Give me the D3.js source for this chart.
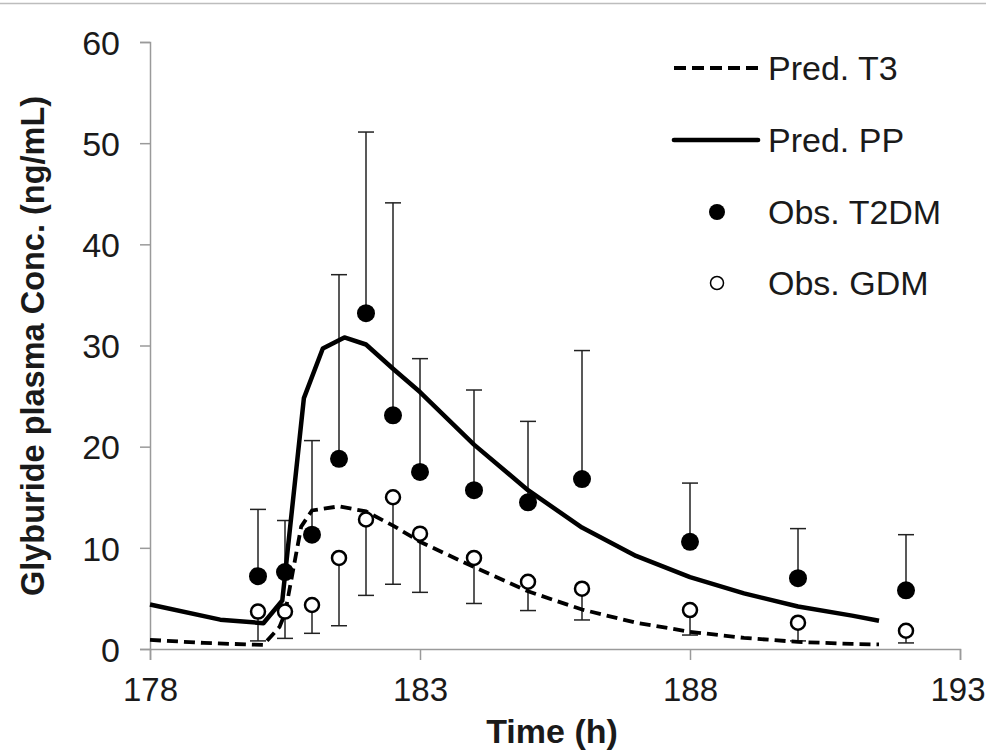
<!DOCTYPE html>
<html>
<head>
<meta charset="utf-8">
<script src="https://cdn.jsdelivr.net/npm/d3@7"></script>
<style>
  html, body { margin: 0; padding: 0; background: #fff; }
  svg { display: block; font-family: "Liberation Sans", Arial, sans-serif; }
</style>
</head>
<body>
<svg id="chart" width="986" height="752"></svg>
<script>
// ---- Data ----
const xTicks = [178, 183, 188, 193];
const yTicks = [0, 10, 20, 30, 40, 50, 60];

// Predicted T3 (dashed)
const predT3Time = [178, 179, 180.1, 180.4, 180.5, 180.65, 180.8, 181.0, 181.5, 182, 182.5, 183, 184, 185, 186, 187, 188, 189, 190, 191, 191.5];
const predT3Conc = [0.9, 0.6, 0.4, 2.2, 3.5, 7.8, 12.1, 13.7, 14.1, 13.6, 12.2, 10.6, 8.1, 5.7, 3.9, 2.6, 1.7, 1.1, 0.7, 0.5, 0.45];

// Predicted PP (solid)
const predPPTime = [178, 179.3, 180.1, 180.45, 180.85, 181.2, 181.6, 182, 182.5, 183, 184, 185, 186, 187, 188, 189, 190, 191, 191.5];
const predPPConc = [4.4, 2.9, 2.55, 4.8, 24.8, 29.7, 30.8, 30.1, 27.7, 25.4, 20.2, 15.7, 12.0, 9.2, 7.1, 5.5, 4.2, 3.3, 2.8];

// Observed T2DM (filled), error bars upward
const obsTime = [180, 180.5, 181, 181.5, 182, 182.5, 183, 184, 185, 186, 188, 190, 192];
const t2dmMean = [7.2, 7.6, 11.3, 18.8, 33.2, 23.1, 17.5, 15.7, 14.5, 16.8, 10.6, 7.0, 5.8];
const t2dmUpper = [13.8, 12.7, 20.6, 37.0, 51.1, 44.1, 28.7, 25.6, 22.5, 29.5, 16.4, 11.9, 11.3];

// Observed GDM (open), error bars downward
const gdmMean = [3.7, 3.7, 4.35, 9.0, 12.8, 15.0, 11.4, 9.0, 6.65, 5.96, 3.85, 2.6, 1.8];
const gdmLower = [0.8, 1.05, 1.55, 2.3, 5.3, 6.4, 5.6, 4.5, 3.8, 2.87, 1.38, 0.8, 0.6];

const legendLabels = ["Pred. T3", "Pred. PP", "Obs. T2DM", "Obs. GDM"];

// ---- Chart ----
const svg = d3.select("#chart");
const x = d3.scaleLinear().domain([178, 193]).range([150, 960]);
const y = d3.scaleLinear().domain([0, 60]).range([649, 42]);
const textColor = "#1a1a1a";
const fontFam = "'Liberation Sans', Arial, sans-serif";

// top border line
svg.append("line").attr("x1", 0).attr("x2", 986).attr("y1", 3.5).attr("y2", 3.5)
  .attr("stroke", "#bdbdbd").attr("stroke-width", 1.5);

const axisColor = "#9a9a9a";
const yAxis = svg.append("g").attr("transform", "translate(150,0)")
  .call(d3.axisLeft(y).tickValues(yTicks).tickSize(10).tickPadding(20).tickFormat(d3.format("d")));
const xAxis = svg.append("g").attr("transform", "translate(0,649)")
  .call(d3.axisBottom(x).tickValues(xTicks).tickSize(11).tickPadding(18).tickFormat(d3.format("d")));
[xAxis, yAxis].forEach(a => {
  a.attr("font-size", 34).attr("font-family", fontFam);
  a.select(".domain").attr("stroke", axisColor).attr("stroke-width", 1.5);
  a.selectAll(".tick line").attr("stroke", axisColor).attr("stroke-width", 1.5);
  a.selectAll(".tick text").attr("fill", textColor);
});
yAxis.selectAll(".tick text").attr("dy", "0.36em");
xAxis.selectAll(".tick text").attr("dy", "0.71em").attr("font-size", 33);
// keep the last label inside the frame, as in the reference
xAxis.selectAll(".tick text").filter(d => d === xTicks[xTicks.length - 1])
  .attr("text-anchor", "end").attr("x", 25);

// axis titles
svg.append("text").attr("x", 552).attr("y", 743).attr("text-anchor", "middle")
  .attr("font-size", 34).attr("font-weight", "bold").attr("fill", textColor).text("Time (h)");
svg.append("text").attr("transform", "translate(44,346) rotate(-90)").attr("text-anchor", "middle")
  .attr("font-size", 32.5).attr("font-weight", "bold").attr("fill", textColor)
  .text("Glyburide plasma Conc. (ng/mL)");

// lines
const line = d3.line().x(d => x(d[0])).y(d => y(d[1]));
const t3 = predT3Time.map((t, i) => [t, predT3Conc[i]]);
const pp = predPPTime.map((t, i) => [t, predPPConc[i]]);

// error bars
const capW = 8;
const eb = svg.append("g").attr("stroke", "#222").attr("stroke-width", 1.5);
obsTime.forEach((t, i) => {
  const cx = x(t);
  eb.append("line").attr("x1", cx).attr("x2", cx).attr("y1", y(t2dmMean[i])).attr("y2", y(t2dmUpper[i]));
  eb.append("line").attr("x1", cx - capW).attr("x2", cx + capW).attr("y1", y(t2dmUpper[i])).attr("y2", y(t2dmUpper[i]));
  eb.append("line").attr("x1", cx).attr("x2", cx).attr("y1", y(gdmMean[i])).attr("y2", y(gdmLower[i]));
  eb.append("line").attr("x1", cx - capW).attr("x2", cx + capW).attr("y1", y(gdmLower[i])).attr("y2", y(gdmLower[i]));
});

svg.append("path").datum(t3).attr("d", line).attr("fill", "none").attr("stroke", "#000")
  .attr("stroke-width", 3.8).attr("stroke-dasharray", "11,6");
svg.append("path").datum(pp).attr("d", line).attr("fill", "none").attr("stroke", "#000")
  .attr("stroke-width", 4.5).attr("stroke-linejoin", "round");

// points
svg.append("g").selectAll("circle").data(obsTime).join("circle")
  .attr("cx", d => x(d)).attr("cy", (d, i) => y(t2dmMean[i])).attr("r", 9).attr("fill", "#000");
svg.append("g").selectAll("circle").data(obsTime).join("circle")
  .attr("cx", d => x(d)).attr("cy", (d, i) => y(gdmMean[i])).attr("r", 7)
  .attr("fill", "#fff").attr("stroke", "#000").attr("stroke-width", 2.5);

// legend
const lg = svg.append("g");
const ly = [68, 140, 212, 283];
lg.append("line").attr("x1", 674).attr("x2", 758).attr("y1", ly[0]).attr("y2", ly[0])
  .attr("stroke", "#000").attr("stroke-width", 4).attr("stroke-dasharray", "12,6");
lg.append("line").attr("x1", 674).attr("x2", 758).attr("y1", ly[1]).attr("y2", ly[1])
  .attr("stroke", "#000").attr("stroke-width", 4.7).attr("stroke-linecap", "round");
lg.append("circle").attr("cx", 717).attr("cy", ly[2]).attr("r", 8).attr("fill", "#000");
lg.append("circle").attr("cx", 717).attr("cy", ly[3]).attr("r", 6.5).attr("fill", "#fff")
  .attr("stroke", "#000").attr("stroke-width", 1.5);
legendLabels.forEach((lab, i) => {
  lg.append("text").attr("x", 768).attr("y", ly[i] + 11.5)
    .attr("font-size", 34).attr("fill", textColor).text(lab);
});
</script>
</body>
</html>
